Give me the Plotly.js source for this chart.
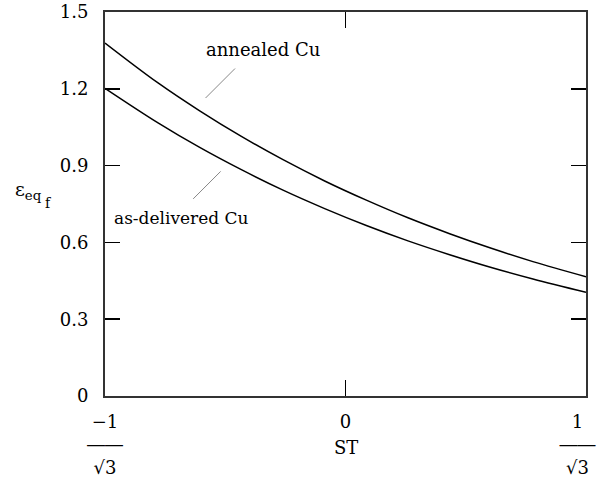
<!DOCTYPE html>
<html>
<head>
<meta charset="utf-8">
<script src="https://cdn.plot.ly/plotly-3.0.1.min.js"></script>
<style>html,body{margin:0;padding:0;background:#fff;}#chart{width:598px;height:492px;}</style>
</head>
<body>
<div id="chart"></div>
<script>
const R3 = 1 / Math.sqrt(3);
const st = [-R3, -0.45, -0.35, -0.25, -0.15, -0.05, 0.05, 0.15, 0.25, 0.35, 0.45, R3];
const annealedCu = [1.379, 1.223, 1.114, 1.014, 0.923, 0.840, 0.765, 0.696, 0.634, 0.577, 0.525, 0.466];
const asDeliveredCu = [1.202, 1.067, 0.971, 0.884, 0.804, 0.732, 0.666, 0.606, 0.552, 0.502, 0.457, 0.405];
const xTickVals = [-R3, 0, R3];
const xTickText = ["−1<br>――<br>√3", "0", "1&nbsp;&nbsp;&nbsp;<br>――&nbsp;&nbsp;&nbsp;<br>√3&nbsp;&nbsp;&nbsp;"];
const yTickVals = [0, 0.3, 0.6, 0.9, 1.2, 1.5];
const yTickText = ["0", "0.3", "0.6", "0.9", "1.2", "1.5"];

const FONT = "DejaVu Serif, Liberation Serif, serif";

const traces = [
  {x: st, y: annealedCu, mode: "lines", line: {color: "#000", width: 1.5, shape: "spline"}, name: "annealed Cu", hoverinfo: "skip"},
  {x: st, y: asDeliveredCu, mode: "lines", line: {color: "#000", width: 1.5, shape: "spline"}, name: "as-delivered Cu", hoverinfo: "skip"}
];

const layout = {
  width: 598, height: 492,
  margin: {l: 105, r: 12, t: 12, b: 96, pad: 0},
  paper_bgcolor: "#fff", plot_bgcolor: "#fff",
  showlegend: false,
  font: {family: FONT, size: 17, color: "#000"},
  xaxis: {
    range: [-R3, R3], tickvals: xTickVals, ticktext: xTickText,
    ticks: "inside", ticklen: 16, tickwidth: 1.5, tickcolor: "#000",
    showline: true, linecolor: "#333", linewidth: 2, mirror: "ticks",
    showgrid: false, zeroline: false, ticklabelstandoff: 8,
    ticklabeloverflow: "allow",
    tickfont: {family: FONT, size: 18}
  },
  yaxis: {
    range: [0, 1.5], tickvals: yTickVals, ticktext: yTickText,
    ticks: "inside", ticklen: 15, tickwidth: 1.5, tickcolor: "#000",
    showline: true, linecolor: "#333", linewidth: 2, mirror: "ticks",
    showgrid: false, zeroline: false, ticklabelstandoff: 11,
    ticklabeloverflow: "allow",
    tickfont: {family: FONT, size: 18}
  },
  annotations: [
    {x: -0.197, y: 1.355, xref: "x", yref: "y", text: "annealed Cu", showarrow: false, font: {family: FONT, size: 18}},
    {x: -0.394, y: 0.695, xref: "x", yref: "y", text: "as-delivered Cu", showarrow: false, font: {family: FONT, size: 17}},
    {x: -0.336, y: 1.164, xref: "x", yref: "y", text: "", showarrow: true, arrowhead: 0, arrowwidth: 1, arrowcolor: "#888", ax: 31, ay: -31, standoff: 0, startstandoff: 0},
    {x: -0.3657, y: 0.770, xref: "x", yref: "y", text: "", showarrow: true, arrowhead: 0, arrowwidth: 1, arrowcolor: "#888", ax: 29, ay: -29, standoff: 0, startstandoff: 0},
    {x: 0, y: -0.133, xref: "x", yref: "paper", yanchor: "middle", text: "ST", showarrow: false, font: {family: FONT, size: 18}},
    {x: -0.191, y: 0.536, xref: "paper", yref: "paper", xanchor: "left", yanchor: "middle", text: "ε<sub>eq</sub>", showarrow: false, font: {family: FONT, size: 19}},
    {x: -0.106, y: 0.503, xref: "paper", yref: "paper", xanchor: "right", yanchor: "middle", text: "f", showarrow: false, font: {family: FONT, size: 14}}
  ]
};

Plotly.newPlot("chart", traces, layout, {displayModeBar: false, staticPlot: true});
</script>
</body>
</html>
